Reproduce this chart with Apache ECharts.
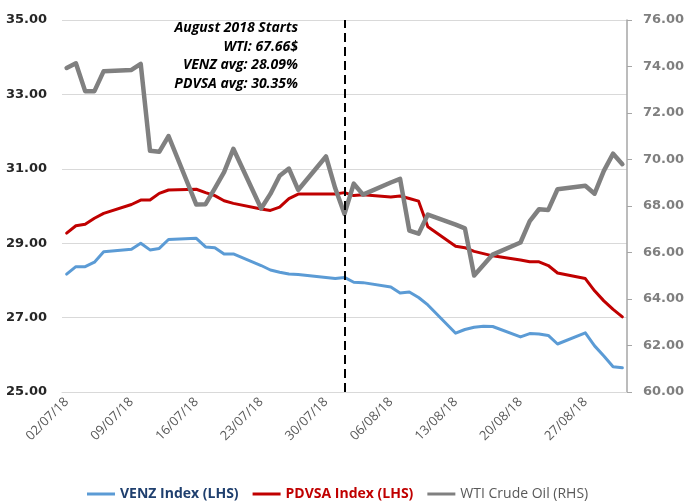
<!DOCTYPE html>
<html lang="en">
<head>
	<meta charset="UTF-8">
	<title>VENZ / PDVSA vs WTI</title>
	<style>
		html, body { margin: 0; padding: 0; background: #fff; }
	</style>
</head>
<body>
	<div id="chart" style="width:684px;height:501px;"></div>
<script src="https://cdn.jsdelivr.net/npm/echarts@6/dist/echarts.min.js"></script>
<script>
	// trading days shown on the chart
	var dates = [
		"02/07/18","03/07/18","04/07/18","05/07/18","06/07/18",
		"09/07/18","10/07/18","11/07/18","12/07/18","13/07/18",
		"16/07/18","17/07/18","18/07/18","19/07/18","20/07/18",
		"23/07/18","24/07/18","25/07/18","26/07/18","27/07/18",
		"30/07/18","31/07/18","01/08/18","02/08/18","03/08/18",
		"06/08/18","07/08/18","08/08/18","09/08/18","10/08/18",
		"13/08/18","14/08/18","15/08/18","16/08/18","17/08/18",
		"20/08/18","21/08/18","22/08/18","23/08/18","24/08/18",
		"27/08/18","28/08/18","29/08/18","30/08/18","31/08/18"
	];

	var venz = [
		28.17,28.37,28.37,28.49,28.77,
		28.84,29.00,28.82,28.86,29.10,
		29.13,28.90,28.88,28.71,28.71,
		28.40,28.28,28.22,28.17,28.16,
		28.08,28.05,28.08,27.95,27.94,
		27.82,27.66,27.69,27.54,27.34,
		26.58,26.68,26.74,26.77,26.76,
		26.48,26.57,26.56,26.52,26.29,
		26.59,26.24,25.97,25.68,25.65
	];

	var pdvsa = [
		29.27,29.47,29.51,29.67,29.80,
		30.04,30.16,30.16,30.34,30.43,
		30.45,30.36,30.28,30.14,30.07,
		29.92,29.88,29.97,30.20,30.32,
		30.32,30.32,30.36,30.28,30.30,
		30.24,30.27,30.20,30.13,29.44,
		28.92,28.88,28.78,28.72,28.66,
		28.55,28.50,28.50,28.40,28.20,
		28.05,27.72,27.45,27.22,27.02
	];

	var wti = [
		73.94,74.14,72.94,72.94,73.80,
		73.85,74.11,70.38,70.33,71.01,
		68.06,68.08,68.76,69.46,70.46,
		67.89,68.52,69.30,69.61,68.69,
		70.13,68.76,67.66,68.96,68.49,
		69.01,69.17,66.94,66.81,67.63,
		67.20,67.04,65.01,65.46,65.91,
		66.43,67.35,67.86,67.83,68.72,
		68.87,68.53,69.51,70.25,69.80
	];

	var markerDate = "01/08/18";
	var noteLines = ["August 2018 Starts", "WTI: 67.66$", "VENZ avg: 28.09%", "PDVSA avg: 30.35%"];

	// the axis is a calendar axis: every day from first to last date
	function parseDay(s) {
		var p = s.split("/");
		return Date.UTC(2000 + parseInt(p[2], 10), parseInt(p[1], 10) - 1, parseInt(p[0], 10));
	}
	function fmtDay(t) {
		var d = new Date(t);
		var dd = ("0" + d.getUTCDate()).slice(-2);
		var mm = ("0" + (d.getUTCMonth() + 1)).slice(-2);
		var yy = ("0" + (d.getUTCFullYear() % 100)).slice(-2);
		return dd + "/" + mm + "/" + yy;
	}
	var days = [];
	for (var t = parseDay(dates[0]); t <= parseDay(dates[dates.length - 1]); t += 86400000) {
		days.push(fmtDay(t));
	}

	function pairs(values) {
		var out = [];
		for (var i = 0; i < dates.length; i++) out.push([dates[i], values[i]]);
		return out;
	}

	var font = "'Open Sans', 'Noto Sans', sans-serif";
	var numFont = "'DejaVu Sans', sans-serif";
	var myChart = echarts.init(document.getElementById("chart"));
	var option = {
		animation: false,
		backgroundColor: "#fff",
		textStyle: { fontFamily: font },
		grid: { left: 62, right: 57, top: 20, bottom: 109, containLabel: false, outerBoundsMode: "none" },
		legend: {
			left: 82,
			top: 482,
			icon: "rect",
			itemWidth: 28,
			itemHeight: 3,
			itemGap: 14,
			textStyle: { fontSize: 14, fontFamily: font },
			data: [
				{ name: "VENZ Index (LHS)", textStyle: { color: "#1f3f6e", fontWeight: "bold" } },
				{ name: "PDVSA Index (LHS)", textStyle: { color: "#c00000", fontWeight: "bold" } },
				{ name: "WTI Crude Oil (RHS)", textStyle: { color: "#595959", fontWeight: "normal" } }
			]
		},
		xAxis: {
			type: "category",
			data: days,
			boundaryGap: true,
			axisLine: { show: true, lineStyle: { color: "#d9d9d9", width: 1 } },
			axisTick: { show: false },
			axisLabel: {
				interval: 6,
				rotate: 45,
				margin: 8,
				color: "#595959",
				fontSize: 13,
				fontFamily: font
			},
			splitLine: { show: false }
		},
		yAxis: [
			{
				type: "value",
				min: 25,
				max: 35,
				interval: 2,
				axisLine: { show: false },
				axisTick: { show: false },
				axisLabel: {
					margin: 15,
					color: "#262626",
					fontWeight: "bold",
					fontSize: 13,
					fontFamily: numFont,
					formatter: function (v) { return v.toFixed(2); }
				},
				splitLine: { lineStyle: { color: "#d9d9d9", width: 1 } }
			},
			{
				type: "value",
				position: "right",
				min: 60,
				max: 76,
				interval: 2,
				axisLine: { show: true, lineStyle: { color: "#a6a6a6", width: 1.5 } },
				axisTick: { show: true, inside: false, length: 5, lineStyle: { color: "#a6a6a6" } },
				axisLabel: {
					margin: 16,
					color: "#7f7f7f",
					fontWeight: "bold",
					fontSize: 13,
					fontFamily: numFont,
					formatter: function (v) { return v.toFixed(2); }
				},
				splitLine: { show: false }
			}
		],
		series: [
			{
				name: "VENZ Index (LHS)",
				type: "line",
				yAxisIndex: 0,
				data: pairs(venz),
				showSymbol: false,
				symbol: "none",
				color: "#5b9bd5",
				lineStyle: { color: "#5b9bd5", width: 3, join: "round", cap: "round" }
			},
			{
				name: "PDVSA Index (LHS)",
				type: "line",
				yAxisIndex: 0,
				data: pairs(pdvsa),
				showSymbol: false,
				symbol: "none",
				color: "#c00000",
				lineStyle: { color: "#c00000", width: 3, join: "round", cap: "round" }
			},
			{
				name: "WTI Crude Oil (RHS)",
				type: "line",
				yAxisIndex: 1,
				data: pairs(wti),
				showSymbol: false,
				symbol: "none",
				color: "#808080",
				lineStyle: { color: "#808080", width: 4.5, join: "round", cap: "round" },
				markLine: {
					silent: true,
					symbol: "none",
					label: { show: false },
					lineStyle: { color: "#000", type: [9, 5], width: 2 },
					data: [{ xAxis: markerDate }]
				}
			}
		],
		graphic: [
			{
				type: "text",
				x: 298,
				y: 19,
				style: {
					text: noteLines.join("\n"),
					textAlign: "right",
					textVerticalAlign: "top",
					fontFamily: font,
					fontSize: 14,
					fontWeight: "bold",
					fontStyle: "italic",
					lineHeight: 18.5,
					fill: "#000"
				}
			}
		]
	};
	myChart.setOption(option);
</script>
</body>
</html>
